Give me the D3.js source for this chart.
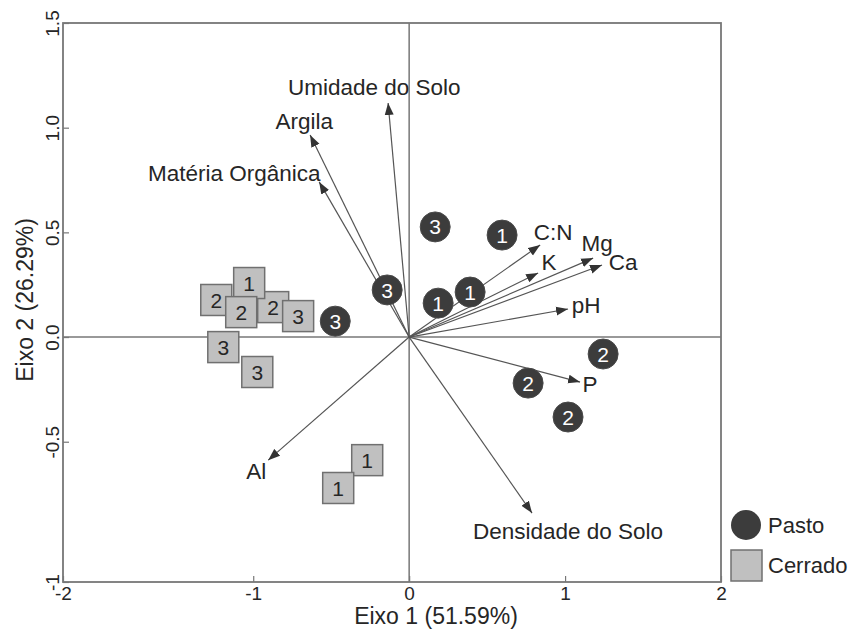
<!DOCTYPE html>
<html><head><meta charset="utf-8">
<script src="https://cdn.jsdelivr.net/npm/d3@7"></script>
<style>body{margin:0;background:#fff} text{font-family:"Liberation Sans",Arial,sans-serif}</style>
</head><body><svg id="c" width="851" height="631"></svg>
<script>
// ---- data ----
const xTickValues = [-2.22, -1, 0, 1, 2];
const xTickLabels = ["-2", "-1", "0", "1", "2"];
const yTickValues = [-1.17, -0.5, 0, 0.5, 1, 1.5];
const yTickLabels = ["-1", "-0.5", "0.0", "0.5", "1.0", "1.5"];
const xTitle = "Eixo 1 (51.59%)";
const yTitle = "Eixo 2 (26.29%)";

const variables = ["Umidade do Solo", "Argila", "Matéria Orgânica", "C:N", "K", "Mg", "Ca", "pH", "P", "Densidade do Solo", "Al"];
const loadX = [-0.135, -0.635, -0.577, 0.84, 0.827, 1.18, 1.237, 1.019, 1.096, 0.788, -0.904];
const loadY = [1.118, 0.965, 0.741, 0.44, 0.306, 0.377, 0.344, 0.134, -0.215, -0.841, -0.588];
const labelX = [-0.224, -0.673, -1.122, 0.923, 0.897, 1.205, 1.372, 1.135, 1.160, 1.019, -0.981];
const labelY = [1.194, 1.032, 0.784, 0.502, 0.358, 0.449, 0.358, 0.153, -0.225, -0.927, -0.640];

const cerradoX = [-1.237, -0.872, -1.026, -1.077, -0.712, -1.192, -0.974, -0.269, -0.455];
const cerradoY = [0.177, 0.143, 0.258, 0.119, 0.100, -0.048, -0.167, -0.588, -0.721];
const cerradoLabel = ["2", "2", "1", "2", "3", "3", "3", "1", "1"];

const pastoX = [0.167, 0.596, -0.141, 0.186, 0.391, -0.474, 1.244, 0.763, 1.019];
const pastoY = [0.526, 0.487, 0.225, 0.162, 0.215, 0.076, -0.081, -0.220, -0.382];
const pastoLabel = ["3", "1", "3", "1", "1", "3", "2", "2", "2"];

const legendLabels = ["Pasto", "Cerrado"];

// ---- chart ----
const svg = d3.select("#c");
const L = 63, R = 721, T = 23, B = 582;
const x = d3.scaleLinear().domain([-2.22, 2]).range([L, R]);
const y = d3.scaleLinear().domain([-1.17, 1.5]).range([B, T]);
const ink = "#262626";
const lineCol = "#777";
const FF = '"Liberation Sans",Arial,sans-serif';

svg.append("defs").append("marker")
  .attr("id", "ah").attr("markerUnits", "userSpaceOnUse")
  .attr("viewBox", "0 -5 12 10").attr("refX", 12).attr("refY", 0)
  .attr("markerWidth", 12).attr("markerHeight", 10).attr("orient", "auto")
  .append("path").attr("d", "M0,-4.5L12,0L0,4.5Z").attr("fill", "#333");

// zero lines
svg.append("line").attr("x1", x(0)).attr("x2", x(0)).attr("y1", T).attr("y2", B)
  .attr("stroke", lineCol).attr("stroke-width", 1.5);
svg.append("line").attr("x1", L).attr("x2", R).attr("y1", y(0)).attr("y2", y(0))
  .attr("stroke", lineCol).attr("stroke-width", 1.5);

// axes
const ax = svg.append("g").attr("transform", `translate(0,${B})`)
  .call(d3.axisBottom(x).tickValues(xTickValues).tickFormat((d, i) => xTickLabels[i])
    .tickSizeInner(-6).tickSizeOuter(0).tickPadding(5));
ax.select(".domain").remove();
ax.selectAll("line").attr("stroke", lineCol).attr("stroke-width", 1.2);
ax.selectAll("text").attr("font-size", 19).attr("fill", ink).attr("font-family", FF);

const ay = svg.append("g").attr("transform", `translate(${L},0)`)
  .call(d3.axisLeft(y).tickValues(yTickValues).tickFormat((d, i) => yTickLabels[i])
    .tickSizeInner(-6).tickSizeOuter(0));
ay.select(".domain").remove();
ay.selectAll("line").attr("stroke", lineCol).attr("stroke-width", 1.2);
ay.selectAll("text").attr("font-size", 19).attr("fill", ink).attr("font-family", FF)
  .attr("transform", "rotate(-90)").attr("x", 0).attr("y", -4).attr("dy", 0)
  .attr("text-anchor", "middle");

// frame
svg.append("rect").attr("x", L).attr("y", T).attr("width", R - L).attr("height", B - T)
  .attr("fill", "none").attr("stroke", lineCol).attr("stroke-width", 1.8);

// titles
svg.append("text").attr("x", 436).attr("y", 624).attr("text-anchor", "middle")
  .attr("font-size", 23).attr("fill", ink).text(xTitle);
svg.append("text").attr("transform", "translate(33,300) rotate(-90)").attr("text-anchor", "middle")
  .attr("font-size", 23).attr("fill", ink).text(yTitle);

// arrows
const vars = variables.map((v, i) => ({ v, x: loadX[i], y: loadY[i], lx: labelX[i], ly: labelY[i] }));
svg.append("g").selectAll("line").data(vars).join("line")
  .attr("x1", x(0)).attr("y1", y(0))
  .attr("x2", d => x(d.x)).attr("y2", d => y(d.y))
  .attr("stroke", "#555").attr("stroke-width", 1.2).attr("marker-end", "url(#ah)");

// cerrado squares
const cer = cerradoX.map((v, i) => ({ x: v, y: cerradoY[i], l: cerradoLabel[i] }));
const cg = svg.append("g").selectAll("g").data(cer).join("g")
  .attr("transform", d => `translate(${x(d.x)},${y(d.y)})`);
cg.append("rect").attr("x", -15.5).attr("y", -15.5).attr("width", 31).attr("height", 31)
  .attr("fill", "#c0c0c0").attr("stroke", "#707070").attr("stroke-width", 1.5);
cg.append("text").attr("text-anchor", "middle").attr("dy", "0.36em")
  .attr("font-size", 21).attr("fill", ink).text(d => d.l);

// pasto circles
const pas = pastoX.map((v, i) => ({ x: v, y: pastoY[i], l: pastoLabel[i] }));
const pg = svg.append("g").selectAll("g").data(pas).join("g")
  .attr("transform", d => `translate(${x(d.x)},${y(d.y)})`);
pg.append("circle").attr("r", 15).attr("fill", "#3c3c3c").attr("stroke", "#4a4a4a").attr("stroke-width", 1);
pg.append("text").attr("text-anchor", "middle").attr("dy", "0.36em")
  .attr("font-size", 21).attr("fill", "#fff").text(d => d.l);

// variable labels
svg.append("g").selectAll("text").data(vars).join("text")
  .attr("x", d => x(d.lx)).attr("y", d => y(d.ly)).attr("dy", "0.36em")
  .attr("text-anchor", "middle").attr("font-size", 22.5).attr("fill", ink)
  .text(d => d.v);

// legend
const lg = svg.append("g");
lg.append("circle").attr("cx", 746).attr("cy", 525).attr("r", 15).attr("fill", "#3c3c3c");
lg.append("rect").attr("x", 731).attr("y", 550).attr("width", 31).attr("height", 31)
  .attr("fill", "#c0c0c0").attr("stroke", "#707070").attr("stroke-width", 1.5);
lg.selectAll("text").data(legendLabels).join("text")
  .attr("x", 768).attr("y", (d, i) => 525 + i * 40).attr("dy", "0.36em")
  .attr("font-size", 22).attr("fill", ink).text(d => d);
</script></body></html>
